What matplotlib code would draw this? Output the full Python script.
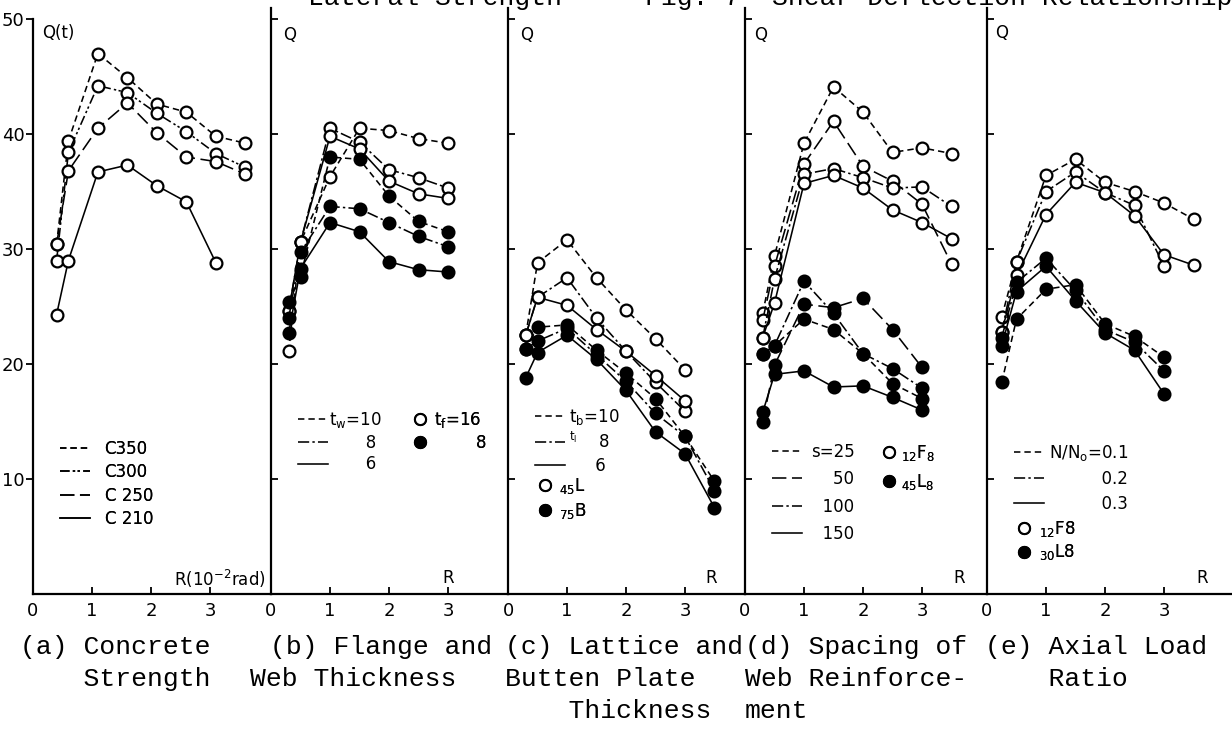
import matplotlib.pyplot as plt
from matplotlib.lines import Line2D

# ---- data (Q in t, R in 10^-2 rad) ----
# (a) concrete strength
a_x = [0.4, 0.6, 1.1, 1.6, 2.1, 2.6, 3.1, 3.6]
a_c350 = [30.4, 39.4, 47.0, 44.9, 42.6, 41.9, 39.8, 39.2]
a_c300 = [29.0, 38.4, 44.2, 43.6, 41.8, 40.2, 38.3, 37.1]
a_c250 = [30.4, 36.8, 40.5, 42.7, 40.1, 38.0, 37.6, 36.5]
a_x210 = [0.4, 0.6, 1.1, 1.6, 2.1, 2.6, 3.1]
a_c210 = [24.3, 29.0, 36.7, 37.3, 35.5, 34.1, 28.8]

# (b) flange and web thickness
b_x = [0.3, 0.5, 1.0, 1.5, 2.0, 2.5, 3.0]
b_open10 = [21.1, 30.6, 36.3, 40.5, 40.3, 39.6, 39.2]
b_open8 = [24.6, 30.6, 40.5, 39.3, 36.9, 36.2, 35.3]
b_open6 = [24.6, 30.6, 39.8, 38.7, 35.9, 34.8, 34.4]
b_fill10 = [25.4, 27.6, 38.0, 37.8, 34.6, 32.4, 31.5]
b_fill8 = [24.0, 29.7, 33.7, 33.5, 32.3, 31.1, 30.2]
b_fill6 = [22.7, 28.3, 32.3, 31.5, 28.9, 28.2, 28.0]

# (c) lattice and butten plate thickness
c_x = [0.3, 0.5, 1.0, 1.5, 2.0, 2.5, 3.0]
c_xf = [0.3, 0.5, 1.0, 1.5, 2.0, 2.5, 3.0, 3.5]
c_open10 = [22.5, 28.8, 30.8, 27.5, 24.7, 22.2, 19.5]
c_open8 = [22.5, 25.8, 27.5, 24.0, 21.1, 18.4, 15.9]
c_open6 = [22.5, 25.8, 25.1, 23.0, 21.1, 19.0, 16.8]
c_fill10 = [21.3, 23.2, 23.4, 21.2, 19.2, 17.0, 13.7, 9.8]
c_fill8 = [21.3, 22.0, 23.1, 20.8, 18.5, 15.7, 13.7, 9.0]
c_fill6 = [18.8, 21.0, 22.5, 20.4, 17.7, 14.1, 12.2, 7.5]

# (d) spacing of web reinforcement
d_x = [0.3, 0.5, 1.0, 1.5, 2.0, 2.5, 3.0, 3.5]
d_xf = [0.3, 0.5, 1.0, 1.5, 2.0, 2.5, 3.0]
d_open25 = [24.4, 29.4, 39.2, 44.1, 41.9, 38.4, 38.8, 38.3]
d_open50 = [23.8, 28.5, 37.4, 41.1, 37.2, 35.9, 33.9, 28.7]
d_open100 = [22.3, 27.4, 36.5, 37.0, 36.2, 35.3, 35.4, 33.7]
d_open150 = [22.3, 25.3, 35.7, 36.4, 35.3, 33.4, 32.3, 30.9]
d_fill25 = [20.9, 21.6, 23.9, 23.0, 20.9, 18.3, 17.0]
d_fill50 = [15.0, 19.9, 25.2, 24.9, 25.7, 23.0, 19.7]
d_fill100 = [20.9, 21.6, 27.2, 24.4, 20.9, 19.6, 17.9]
d_fill150 = [15.8, 19.1, 19.4, 18.0, 18.1, 17.1, 16.0]

# (e) axial load ratio
e_x = [0.25, 0.5, 1.0, 1.5, 2.0, 2.5, 3.0, 3.5]
e_x7 = [0.25, 0.5, 1.0, 1.5, 2.0, 2.5, 3.0]
e_open01 = [24.1, 28.9, 36.4, 37.8, 35.8, 35.0, 34.0, 32.6]
e_open02 = [22.8, 28.9, 35.0, 36.7, 34.9, 33.8, 28.5]
e_open03 = [22.8, 27.7, 33.0, 35.8, 34.9, 32.9, 29.5, 28.6]
e_fill01 = [18.4, 23.9, 26.5, 26.9, 23.5, 22.4, 20.6]
e_fill02 = [22.3, 27.1, 29.2, 26.4, 23.0, 21.9, 19.4]
e_fill03 = [21.6, 26.3, 28.5, 25.5, 22.7, 21.2, 17.4]

x_ticks = [0, 1, 2, 3]
y_ticks = [10, 20, 30, 40, 50]
captions = [
    ["(a) Concrete", "    Strength"],
    ["(b) Flange and", "Web Thickness"],
    ["(c) Lattice and", "Butten Plate", "    Thickness"],
    ["(d) Spacing of", "Web Reinforce-", "ment"],
    ["(e) Axial Load", "    Ratio"],
]

plt.rcParams['font.family'] = ['DejaVu Sans']
plt.rcParams['mathtext.default'] = 'regular'

# line styles
DASH = (0, (4, 2.5))
DDOT = (0, (7, 2, 1.5, 2))
DDOT2 = (0, (6, 2, 1.5, 1.5, 1.5, 2))
LONG = (0, (9, 3.5))
SOLID = '-'

W, H = 1232, 731
fig = plt.figure(figsize=(W / 100, H / 100), dpi=100)

Y_PX = 11.5          # pixels per 1 t
X_PX = 59            # pixels per 1e-2 rad
BOTTOM = 594
lefts = [33, 271, 508, 745, 987]
rights = [271, 508, 745, 987, 1232]

axes = []
for i, (l, r) in enumerate(zip(lefts, rights)):
    ax = fig.add_axes([l / W, 1 - BOTTOM / H, (r - l) / W, 51 * Y_PX / H])
    ax.set_xlim(0, (r - l) / X_PX)
    ax.set_ylim(0, 51)
    ax.spines['top'].set_visible(False)
    ax.spines['right'].set_visible(False)
    ax.spines['left'].set_linewidth(1.6)
    ax.spines['bottom'].set_linewidth(1.6)
    ax.set_xticks(x_ticks)
    ax.set_xticklabels([str(t) for t in x_ticks])
    ax.tick_params(axis='x', direction='in', length=5, width=1.3, pad=6, labelsize=13)
    ax.set_yticks(y_ticks)
    if i == 0:
        ax.spines['left'].set_bounds(0, 50)
        ax.tick_params(axis='y', direction='out', length=5, width=1.3, pad=1, labelsize=13)
    else:
        ax.set_yticklabels([])
        ax.tick_params(axis='y', direction='in', length=5, width=1.3)
    axes.append(ax)


def draw(ax, x, y, ls, filled):
    ax.plot(x, y, color='black', lw=1.15, ls=ls, marker='o', ms=8.5,
            mfc='black' if filled else 'white', mec='black', mew=1.6,
            clip_on=False)


def key(ls=None, filled=None):
    if filled is None:
        return Line2D([], [], color='black', lw=1.15, ls=ls)
    return Line2D([], [], ls='none', marker='o', ms=8,
                  mfc='black' if filled else 'white', mec='black', mew=1.5)


def legend(ax, handles, labels, anchor, spacing, hl=1.8, pad=0.6):
    leg = ax.legend(handles, labels, loc='upper left', bbox_to_anchor=anchor,
                    bbox_transform=ax.transData, frameon=False, borderpad=0,
                    borderaxespad=0, fontsize=12, handlelength=hl,
                    handletextpad=pad, labelspacing=spacing)
    ax.add_artist(leg)


# (a)
ax = axes[0]
draw(ax, a_x, a_c350, DASH, False)
draw(ax, a_x, a_c300, DDOT2, False)
draw(ax, a_x, a_c250, LONG, False)
draw(ax, a_x210, a_c210, SOLID, False)
legend(ax, [key(DASH), key(DDOT2), key(LONG), key(SOLID)],
       ['C350', 'C300', 'C 250', 'C 210'], (0.45, 13.4), 0.32, pad=0.9)
ax.text(0.15, 48.8, 'Q(t)', fontsize=12, va='center')
ax.text(3.95, 1.3, 'R(10$^{-2}$rad)', fontsize=12, ha='right', va='center')

# (b)
ax = axes[1]
draw(ax, b_x, b_open10, DASH, False)
draw(ax, b_x, b_open8, DDOT, False)
draw(ax, b_x, b_open6, SOLID, False)
draw(ax, b_x, b_fill10, DASH, True)
draw(ax, b_x, b_fill8, DDOT, True)
draw(ax, b_x, b_fill6, SOLID, True)
legend(ax, [key(DASH), key(DDOT), key(SOLID)],
       ['t$_w$=10', '       8', '       6'], (0.45, 16.0), 0.22, pad=0.1)
legend(ax, [key(filled=False), key(filled=True)],
       ['t$_f$=16', '        8'], (2.42, 16.0), 0.22, hl=0.8, pad=0.4)
ax.text(0.2, 48.6, 'Q', fontsize=12, va='center')
ax.text(3.0, 1.4, 'R', fontsize=12, ha='center', va='center')

# (c)
ax = axes[2]
draw(ax, c_x, c_open10, DASH, False)
draw(ax, c_x, c_open8, DDOT, False)
draw(ax, c_x, c_open6, SOLID, False)
draw(ax, c_xf, c_fill10, DASH, True)
draw(ax, c_xf, c_fill8, DDOT, True)
draw(ax, c_xf, c_fill6, SOLID, True)
legend(ax, [key(DASH), key(DDOT), key(SOLID)],
       ['t$_b$=10', '$^{t_l}$    8', '     6'], (0.45, 16.3), 0.32, pad=0.25)
legend(ax, [key(filled=False), key(filled=True)],
       ['$_{45}$L', '$_{75}$B'], (0.55, 10.3), 0.3, hl=0.6, pad=0.5)
ax.text(3.45, 1.4, 'R', fontsize=12, ha='center', va='center')
ax.text(0.2, 48.6, 'Q', fontsize=12, va='center')

# (d)
ax = axes[3]
draw(ax, d_x, d_open25, DASH, False)
draw(ax, d_x, d_open50, LONG, False)
draw(ax, d_x, d_open100, DDOT, False)
draw(ax, d_x, d_open150, SOLID, False)
draw(ax, d_xf, d_fill25, DASH, True)
draw(ax, d_xf, d_fill50, LONG, True)
draw(ax, d_xf, d_fill100, DDOT, True)
draw(ax, d_xf, d_fill150, SOLID, True)
legend(ax, [key(DASH), key(LONG), key(DDOT), key(SOLID)],
       ['s=25', '    50', '  100', '  150'], (0.45, 13.15), 0.57, pad=0.6)
legend(ax, [key(filled=False), key(filled=True)],
       ['$_{12}$F$_8$', '$_{45}$L$_8$'], (2.33, 13.15), 0.57, hl=0.8, pad=0.3)
ax.text(0.15, 48.6, 'Q', fontsize=12, va='center')
ax.text(3.63, 1.4, 'R', fontsize=12, ha='center', va='center')

# (e)
ax = axes[4]
draw(ax, e_x, e_open01, DASH, False)
draw(ax, e_x7, e_open02, DDOT, False)
draw(ax, e_x, e_open03, SOLID, False)
draw(ax, e_x7, e_fill01, DASH, True)
draw(ax, e_x7, e_fill02, DDOT, True)
draw(ax, e_x7, e_fill03, SOLID, True)
legend(ax, [key(DASH), key(DDOT), key(SOLID)],
       ['N/N$_o$=0.1', '          0.2', '          0.3'], (0.45, 13.15), 0.43, pad=0.3)
legend(ax, [key(filled=False), key(filled=True)],
       ['$_{12}$F8', '$_{30}$L8'], (0.55, 6.55), 0.22, hl=0.6, pad=0.6)
ax.text(0.13, 48.8, 'Q', fontsize=12, va='center')
ax.text(3.65, 1.4, 'R', fontsize=12, ha='center', va='center')

# captions under the panels (typewriter style)
cap_x = [[20, 20], [270, 250], [505, 505, 505], [745, 745, 745], [985, 985]]
cap_y = [647, 679, 711]
for lines, xs in zip(captions, cap_x):
    for j, (txt, xp) in enumerate(zip(lines, xs)):
        fig.text(xp / W, 1 - cap_y[j] / H, txt, fontsize=19, family='Liberation Mono',
                 ha='left', va='center')

# heading, cut by the top edge as in the scan
fig.text(562 / W, 1 + 2 / H, 'Lateral Strength', fontsize=19, family='Liberation Mono',
         ha='right', va='center')
fig.text(1232 / W, 1 + 2 / H, 'Fig. 7  Shear Deflection Relationship', fontsize=19,
         family='Liberation Mono', ha='right', va='center')

fig.savefig('out.png', dpi=100)
